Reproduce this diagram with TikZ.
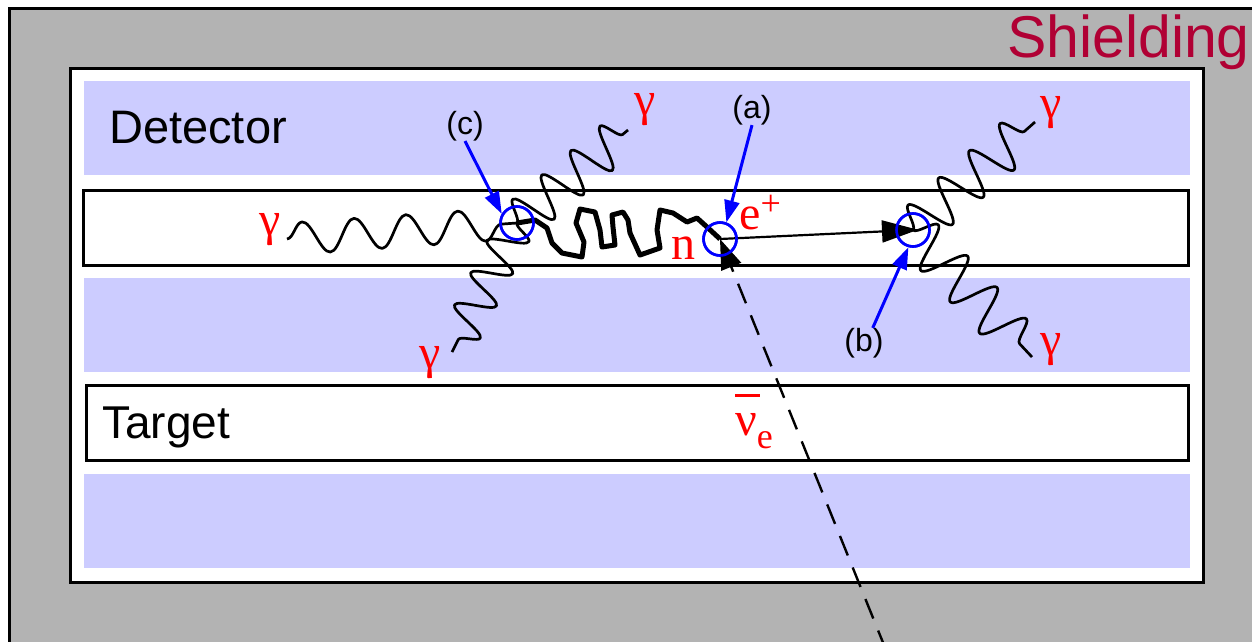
\documentclass[tikz,border=0pt]{standalone}
\usepackage{fontspec}
\setmainfont{Liberation Sans}
\newfontfamily\serifred{Liberation Serif}
\usetikzlibrary{arrows.meta,decorations.pathmorphing}
\definecolor{shieldgray}{RGB}{179,179,179}
\definecolor{bandblue}{RGB}{204,204,255}
\definecolor{crim}{RGB}{176,0,52}
\tikzset{
  layerbox/.style={draw=black,line width=3pt,fill=white},
  bandfill/.style={fill=bandblue},
  vtx/.style={circle,draw=blue,line width=2.6pt,minimum size=33pt,inner sep=0pt},
  photon/.style={draw=black,line width=2.7pt,line join=round,decorate,decoration={snake}},
  ntrack/.style={draw=black,line width=5pt,line join=round},
  tag/.style={font=\fontsize{32}{32}\selectfont,inner sep=0pt},
  redlbl/.style={text=red,font=\serifred\fontsize{48}{48}\selectfont,inner sep=0pt},
  bluearrow/.style={draw=blue,line width=3pt,-{Triangle[length=22pt,width=15pt]}},
  posarrow/.style={draw=black,line width=2.2pt,-{Triangle[length=36pt,width=22pt]}},
  nuarrow/.style={draw=black,line width=2.4pt,dash pattern=on 21pt off 13pt,-{Triangle[length=30pt,width=21pt]}}
}
\begin{document}
\begin{tikzpicture}[x=1pt,y=-1pt]
\useasboundingbox (0,0) rectangle (1252,641);
\clip (0,0) rectangle (1252,641);
% shielding
\draw[fill=shieldgray,line width=3pt] (9,8) rectangle (1270,660);
\node[anchor=base east,text=crim,font=\fontsize{59}{59}\selectfont,inner sep=0pt] (shield) at (1250,57) {Shielding};
% inner detector volume
\draw[layerbox] (70.5,68) rectangle (1203.5,582);
% bands
\fill[bandfill] (84,81) rectangle (1190,175);
\fill[bandfill] (84,278) rectangle (1190,372);
\fill[bandfill] (84,474) rectangle (1190,568);
% white layers
\draw[layerbox] (83.5,190.5) rectangle (1188,265);
\draw[layerbox] (86,385) rectangle (1188,460);
% texts
\node[anchor=base west,font=\fontsize{47}{47}\selectfont,inner sep=0pt] (det) at (109,143) {Detector};
\node[anchor=base west,font=\fontsize{46}{46}\selectfont,inner sep=0pt] (tgt) at (102,438) {Target};
% vertices
\node[vtx] (c) at (517,223) {};
\node[vtx] (a) at (720,239) {};
\node[vtx] (b) at (913,230) {};
% photon end points
\coordinate (gL) at (287,239);
\coordinate (gU1) at (628,130);
\coordinate (gD1) at (452,352);
\coordinate (gU2) at (1035,122);
\coordinate (gD2) at (1032,357);
\draw[photon,decoration={amplitude=16pt,segment length=52pt}] (gL) -- (c.center);
\draw[photon,decoration={amplitude=21pt,segment length=38pt}] (c.center) -- (gU1);
\draw[photon,decoration={amplitude=19pt,segment length=36pt}] (c.center) -- (gD1);
\draw[photon,decoration={amplitude=22pt,segment length=41pt}] (b.center) -- (gU2);
\draw[photon,decoration={amplitude=22pt,segment length=43pt}] (b.center) -- (gD2);
% neutron track
\draw[ntrack] (c.center) -- (535,220) -- (547,228) -- (552,243) -- (562,253) -- (582,257) -- (584,242) -- (576,223) -- (580,209) -- (595,212) -- (600,230) -- (602,247) -- (615,245) -- (613,227) -- (612,215) -- (623,212) -- (628,220) -- (630,233) -- (640,255) -- (660,248) -- (657,230) -- (660,210) -- (673,213) -- (687,222) -- (697,218) -- (707,227) -- (a.center);
% positron
\draw[posarrow,shorten >=-5pt] (a.center) -- (b.center);
% antineutrino
\coordinate (nus) at (886,650);
\draw[nuarrow] (nus) -- (a.center);
% redraw circles on top
\node[vtx] at (c) {};
\node[vtx] at (a) {};
\node[vtx] at (b) {};
% tags
\node[tag] (lc) at (465,126) {(c)};
\node[tag] (la) at (752,110) {(a)};
\node[tag] (lb) at (864,343) {(b)};
\draw[bluearrow] (lc.south) -- (c.149);
\draw[bluearrow] (la.south) -- (a.69);
\draw[bluearrow] (lb.60) -- (b.255);
% red labels
\node[redlbl] (gam1) at (645,110) {γ};
\node[redlbl] (gam2) at (1051,113) {γ};
\node[redlbl] (gam3) at (270,230) {γ};
\node[redlbl] (gam4) at (430,363) {γ};
\node[redlbl] (gam5) at (1051,350) {γ};
\node[redlbl,anchor=base] (nn) at (683,259) {n};
\node[redlbl,anchor=base west] (ep) at (739,229) {e\raisebox{14pt}{\fontsize{36}{36}\selectfont +}};
\node[redlbl,anchor=base west] (nu) at (735,435) {\rlap{\rule[38.5pt]{25pt}{2.5pt}}ν\raisebox{-13pt}{\fontsize{36}{36}\selectfont e}};
\end{tikzpicture}
\end{document}
